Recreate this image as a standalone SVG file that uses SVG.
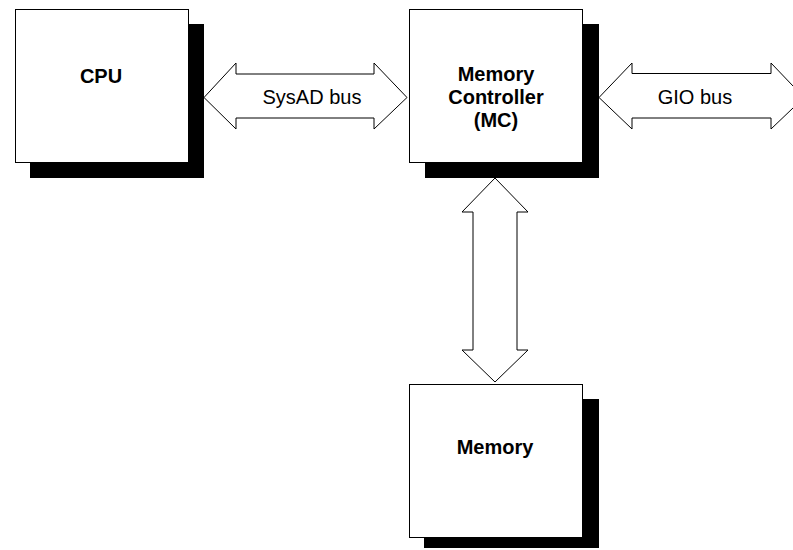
<svg xmlns="http://www.w3.org/2000/svg" width="793" height="550" viewBox="0 0 793 550">
<style>
.box{fill:#fff;stroke:#000;stroke-width:1}
.shadow{fill:#000}
.bus{fill:#fff;stroke:#000;stroke-width:1;stroke-linejoin:miter}
.lbl{font-family:"Liberation Sans",Arial,sans-serif;font-size:20px;font-weight:bold;text-anchor:middle;fill:#000}
.bl{font-family:"Liberation Sans",Arial,sans-serif;font-size:20px;text-anchor:middle;fill:#000}
</style>
<rect width="793" height="550" fill="#fff"/>
<g id="connectors">
<polygon class="bus" points="204,97.5 236,63 236,74 374,74 374,63 407,97.5 374,129 374,118 236,118 236,129"/>
<polygon class="bus" points="599,97.5 632,63 632,73.5 771,73.5 771,63 804,97.5 771,129 771,118 632,118 632,129"/>
<polygon class="bus" points="495,178 528,212 517,212 517,350 528,350 495,382 462,350 473,350 473,212 462,212"/>
<text class="bl" x="312" y="104">SysAD bus</text>
<text class="bl" x="695" y="104">GIO bus</text>
</g>
<g id="cpu">
<rect class="shadow" x="30" y="24" width="174" height="154"/>
<rect class="box" x="15.5" y="9.5" width="173" height="153"/>
<text class="lbl" x="101" y="83">CPU</text>
</g>
<g id="mc">
<rect class="shadow" x="425" y="24" width="174" height="154"/>
<rect class="box" x="409.5" y="9.5" width="173" height="153"/>
<text class="lbl" x="496" y="81">Memory</text>
<text class="lbl" x="496" y="104">Controller</text>
<text class="lbl" x="496" y="127">(MC)</text>
</g>
<g id="memory">
<rect class="shadow" x="424" y="399" width="175" height="149"/>
<rect class="box" x="409.5" y="384.5" width="173" height="153"/>
<text class="lbl" x="495" y="454">Memory</text>
</g>
</svg>
